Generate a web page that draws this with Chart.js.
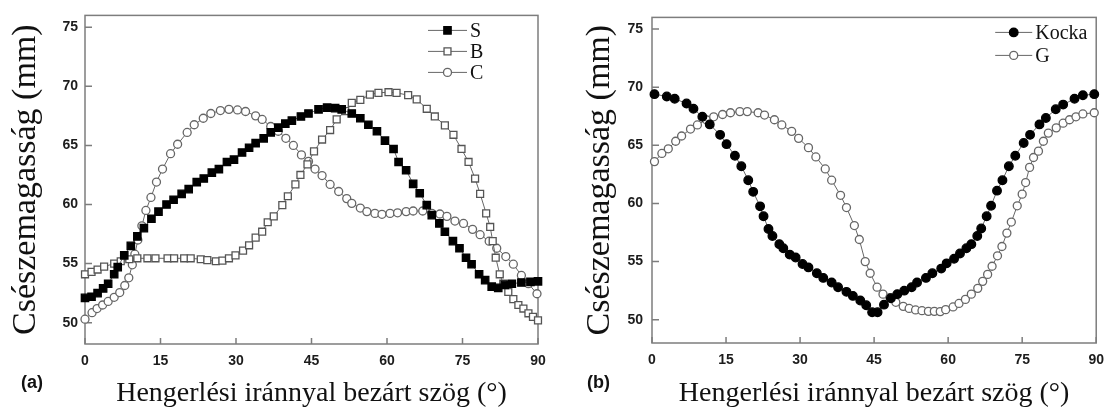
<!DOCTYPE html>
<html lang="hu">
<head>
    <meta charset="UTF-8">
    <title>Csészemagasság - hengerlési irány</title>
    <script src="https://cdn.jsdelivr.net/npm/chart.js"></script>
    <style>
        body {
            margin: 0;
            padding: 0;
            background: #fff;
        }
        .panel {
            position: absolute;
            top: 0;
            height: 412px;
        }
        #panel-a { left: 0; width: 556px; }
        #panel-b { left: 556px; width: 557px; }
        .tag {
            position: absolute;
            top: 372px;
            font: bold 18px "Liberation Sans", Arial, sans-serif;
            color: #111;
        }
    </style>
</head>
<body>
    <div class="panel" id="panel-a"><canvas id="chart-a"></canvas></div>
    <div class="panel" id="panel-b"><canvas id="chart-b"></canvas></div>
    <div class="tag" style="left:21px">(a)</div>
    <div class="tag" style="left:587px">(b)</div>

    <script>
        // axis ticks
        const angleTicks = [0, 15, 30, 45, 60, 75, 90];
        const heightTicks = [50, 55, 60, 65, 70, 75];

        // (a) S, B, C
        const sAngle = [0, 1.3, 2.5, 3.6, 4.6, 5.8, 6.5, 7.8, 9.1, 10.4, 11.7, 13.2, 14.6, 16.2, 17.6, 19.2, 20.6, 22.2, 23.6, 25.2, 26.6, 28.2, 29.6, 31.2, 32.6, 33.9, 35.5, 36.9, 38.4, 39.8, 41.1, 42.9, 44.4, 46.4, 48.1, 49.7, 51.0, 53.0, 54.7, 56.3, 58.0, 59.6, 61.3, 62.3, 63.8, 65.2, 66.5, 67.9, 68.9, 70.4, 71.5, 73.1, 74.4, 75.7, 76.8, 78.3, 79.5, 80.8, 82.1, 83.4, 84.8, 86.7, 88.5, 90];
        const sHeight = [52.1, 52.2, 52.5, 52.9, 53.3, 54.1, 54.7, 55.7, 56.5, 57.3, 58.0, 58.8, 59.4, 60.0, 60.4, 60.9, 61.3, 61.9, 62.2, 62.7, 63.0, 63.6, 63.8, 64.4, 64.8, 65.2, 65.6, 66.1, 66.5, 66.85, 67.1, 67.45, 67.7, 68.05, 68.2, 68.15, 68.05, 67.7, 67.3, 66.75, 66.2, 65.4, 64.7, 63.6, 62.9, 61.75, 60.95, 59.95, 59.1, 58.4, 57.7, 56.9, 56.3, 55.5, 54.95, 54.1, 53.6, 53.05, 52.95, 53.2, 53.3, 53.4, 53.45, 53.5];

        const bAngle = [0, 1.3, 2.5, 3.8, 5.8, 7.1, 8.8, 10.4, 12.4, 14.0, 16.4, 17.7, 19.7, 21.0, 23.0, 24.3, 26.0, 27.3, 28.6, 29.9, 31.4, 32.6, 33.9, 35.2, 36.3, 37.5, 39.2, 40.3, 41.8, 42.8, 44.2, 45.5, 47.1, 48.7, 50.0, 51.7, 53.0, 54.7, 56.6, 58.3, 60.3, 61.9, 64.2, 65.9, 67.9, 69.5, 71.5, 73.2, 74.8, 76.2, 77.5, 78.5, 79.7, 80.5, 81.0, 81.6, 82.4, 83.1, 84.1, 85.1, 86.1, 87.1, 88.1, 89.0, 90];
        const bHeight = [54.1, 54.3, 54.5, 54.75, 55.0, 55.2, 55.37, 55.45, 55.45, 55.45, 55.45, 55.45, 55.45, 55.45, 55.37, 55.3, 55.2, 55.25, 55.45, 55.7, 56.1, 56.55, 57.2, 57.7, 58.5, 59.0, 59.95, 60.7, 61.7, 62.5, 63.4, 64.5, 65.5, 66.3, 67.2, 67.9, 68.6, 68.85, 69.3, 69.45, 69.5, 69.45, 69.25, 68.9, 68.1, 67.45, 66.7, 65.9, 64.7, 63.6, 62.2, 60.9, 59.25, 58.1, 56.9, 55.5, 54.1, 53.3, 52.6, 52.0, 51.5, 51.2, 50.8, 50.5, 50.2];

        const cAngle = [0, 1.4, 2.4, 3.5, 4.6, 5.8, 6.9, 7.9, 8.7, 9.4, 9.9, 10.5, 11.3, 12.1, 13.1, 14.2, 15.4, 17.0, 18.4, 20.3, 21.7, 23.5, 25.0, 26.9, 28.6, 30.3, 31.9, 33.9, 35.2, 36.9, 38.4, 39.9, 41.4, 43.0, 44.4, 45.7, 47.1, 48.7, 50.4, 52.0, 53.0, 54.7, 56.0, 57.6, 59.0, 60.6, 62.1, 63.8, 65.2, 67.1, 68.9, 70.5, 71.9, 73.5, 75.2, 77.0, 78.5, 80.3, 81.8, 83.6, 85.1, 86.7, 88.1, 89.8];
        const cHeight = [50.3, 50.85, 51.2, 51.5, 51.8, 52.15, 52.55, 53.15, 53.8, 54.9, 55.8, 57.0, 58.2, 59.5, 60.6, 61.9, 63.0, 64.3, 65.1, 66.1, 66.75, 67.3, 67.7, 67.95, 68.05, 68.0, 67.87, 67.5, 67.2, 66.6, 66.2, 65.6, 65.0, 64.2, 63.65, 63.0, 62.45, 61.7, 61.1, 60.5, 60.1, 59.7, 59.4, 59.25, 59.17, 59.25, 59.3, 59.4, 59.45, 59.45, 59.25, 59.2, 59.0, 58.6, 58.4, 57.9, 57.45, 56.9, 56.3, 55.6, 54.95, 54.0, 53.3, 52.45];

        // (b) Kocka, G
        const kAngle = [0.5, 3.0, 4.6, 7.0, 8.4, 10.2, 11.7, 13.8, 15.1, 16.8, 18.1, 19.5, 20.5, 21.9, 22.6, 23.6, 24.4, 25.8, 26.6, 27.9, 29.1, 30.5, 31.7, 33.4, 34.7, 36.4, 37.7, 39.4, 40.7, 42.2, 43.4, 44.6, 45.7, 47.0, 48.4, 49.7, 51.1, 52.6, 53.7, 55.5, 56.8, 58.6, 59.7, 61.2, 62.4, 63.7, 64.7, 65.9, 66.7, 67.8, 68.7, 69.9, 71.0, 72.3, 73.6, 75.3, 76.6, 78.5, 79.8, 81.8, 83.3, 85.6, 87.3, 89.6];
        const kHeight = [69.4, 69.2, 69.0, 68.6, 68.15, 67.45, 66.8, 65.9, 65.1, 64.1, 63.2, 62.0, 61.0, 59.75, 58.9, 57.8, 57.2, 56.5, 56.15, 55.6, 55.35, 54.8, 54.5, 54.0, 53.6, 53.2, 52.8, 52.4, 52.05, 51.65, 51.25, 50.65, 50.65, 51.3, 51.85, 52.2, 52.5, 52.8, 53.2, 53.6, 54.0, 54.4, 54.85, 55.25, 55.7, 56.15, 56.5, 57.2, 57.85, 58.9, 59.8, 61.1, 62.0, 63.2, 64.1, 65.2, 65.9, 66.8, 67.35, 68.1, 68.5, 69.0, 69.3, 69.4];

        const gAngle = [0.5, 2.0, 3.3, 4.8, 6.0, 7.8, 9.2, 11.0, 12.5, 14.3, 15.9, 17.8, 19.3, 21.5, 22.8, 24.8, 26.3, 28.3, 29.7, 31.7, 33.2, 35.1, 36.4, 38.2, 39.4, 41.0, 42.0, 43.2, 44.2, 45.6, 46.8, 48.2, 49.4, 50.9, 52.1, 53.4, 54.7, 56.0, 57.2, 58.4, 59.5, 61.0, 62.2, 63.5, 64.7, 66.0, 67.0, 68.0, 68.9, 70.0, 70.9, 71.9, 72.8, 74.0, 75.0, 75.7, 76.5, 77.3, 78.3, 79.3, 80.3, 81.9, 83.3, 84.6, 85.9, 87.3, 89.6];
        const gHeight = [63.6, 64.3, 64.7, 65.35, 65.8, 66.4, 66.75, 67.2, 67.45, 67.65, 67.8, 67.9, 67.9, 67.8, 67.6, 67.2, 66.75, 66.2, 65.6, 64.8, 64.0, 62.97, 62.0, 60.7, 59.65, 58.1, 56.9, 55.0, 54.0, 52.8, 52.2, 51.9, 51.5, 51.15, 50.97, 50.84, 50.78, 50.72, 50.72, 50.7, 50.87, 51.1, 51.4, 51.75, 52.2, 52.7, 53.3, 53.9, 54.6, 55.5, 56.3, 57.45, 58.4, 59.8, 60.8, 61.8, 63.1, 63.95, 64.5, 65.35, 66.05, 66.5, 66.9, 67.2, 67.45, 67.7, 67.8];

        const pairs = (xs, ys) => xs.map((x, i) => ({ x: x, y: ys[i] }));

        const serif = '"Liberation Serif", "Times New Roman", serif';
        const sans = '"Liberation Sans", Arial, sans-serif';
        const frameColor = '#7d7d7d';

        // box around the plot area plus short inward tick marks
        const frame = {
            id: 'frame',
            beforeDatasetsDraw(chart) {
                const { ctx, chartArea: a, scales } = chart;
                ctx.save();
                ctx.strokeStyle = frameColor;
                ctx.lineWidth = 1.5;
                ctx.strokeRect(a.left, a.top, a.right - a.left, a.bottom - a.top);
                ctx.beginPath();
                scales.x.ticks.forEach(t => {
                    const px = scales.x.getPixelForValue(t.value);
                    ctx.moveTo(px, a.bottom);
                    ctx.lineTo(px, a.bottom - 6);
                });
                scales.y.ticks.forEach(t => {
                    const py = scales.y.getPixelForValue(t.value);
                    ctx.moveTo(a.left, py);
                    ctx.lineTo(a.left + 7, py);
                });
                ctx.stroke();
                ctx.restore();
            }
        };

        // legend drawn as line + marker + label
        const lineLegend = {
            id: 'lineLegend',
            afterDraw(chart, args, opts) {
                const { ctx, chartArea: a } = chart;
                ctx.save();
                chart.data.datasets.forEach((ds, i) => {
                    const x = a.right - opts.right;
                    const y = a.top + opts.top + i * opts.gap;
                    ctx.strokeStyle = ds.borderColor;
                    ctx.lineWidth = 1;
                    ctx.beginPath();
                    ctx.moveTo(x, y);
                    ctx.lineTo(x + opts.length, y);
                    ctx.stroke();
                    ctx.fillStyle = ds.pointBackgroundColor;
                    ctx.strokeStyle = ds.pointBorderColor;
                    ctx.lineWidth = ds.pointBorderWidth;
                    Chart.helpers.drawPoint(ctx, {
                        pointStyle: ds.pointStyle,
                        radius: ds.pointRadius,
                        borderWidth: ds.pointBorderWidth,
                        rotation: 0
                    }, x + opts.length / 2, y);
                    ctx.fillStyle = '#111';
                    ctx.font = '20px ' + serif;
                    ctx.textBaseline = 'middle';
                    ctx.fillText(ds.label, x + opts.length + 3, y + 1);
                });
                ctx.restore();
            }
        };

        function series(label, data, style, filled, radius, border) {
            return {
                label: label,
                data: data,
                showLine: true,
                borderColor: '#666',
                borderWidth: 1,
                pointStyle: style,
                pointRadius: radius,
                pointHoverRadius: radius,
                pointBorderWidth: 1.3,
                pointBorderColor: border,
                pointBackgroundColor: filled ? border : '#fff',
                clip: false
            };
        }

        function makeChart(id, datasets, cfg) {
            return new Chart(document.getElementById(id), {
                type: 'scatter',
                data: { datasets: datasets },
                options: {
                    responsive: true,
                    maintainAspectRatio: false,
                    animation: false,
                    layout: { padding: { top: cfg.top, right: cfg.right, left: 0, bottom: 0 } },
                    plugins: {
                        legend: { display: false },
                        tooltip: { enabled: false },
                        lineLegend: cfg.legend
                    },
                    scales: {
                        x: {
                            type: 'linear',
                            min: 0,
                            max: 90,
                            afterBuildTicks: s => { s.ticks = angleTicks.map(v => ({ value: v })); },
                            afterFit: s => { s.height = cfg.xHeight; },
                            grid: { display: false, drawTicks: false, tickLength: 0 },
                            border: { display: false },
                            ticks: {
                                padding: 9,
                                color: '#1c1c1c',
                                font: { family: sans, size: 14, weight: 'bold' }
                            },
                            title: {
                                display: true,
                                text: 'Hengerlési iránnyal bezárt szög (°)',
                                color: '#111',
                                font: { family: serif, size: 28 },
                                padding: { top: 0, bottom: 2 }
                            }
                        },
                        y: {
                            type: 'linear',
                            min: cfg.yMin,
                            max: 76,
                            afterBuildTicks: s => { s.ticks = heightTicks.map(v => ({ value: v })); },
                            afterFit: s => { s.width = cfg.yWidth; },
                            grid: { display: false, drawTicks: false, tickLength: 0 },
                            border: { display: false },
                            ticks: {
                                padding: cfg.yPad,
                                color: '#1c1c1c',
                                font: { family: sans, size: 14, weight: 'bold' }
                            },
                            title: {
                                display: true,
                                text: 'Csészemagasság (mm)',
                                color: '#111',
                                font: { family: serif, size: 34 },
                                padding: { top: cfg.titleGap, bottom: 0 }
                            }
                        }
                    }
                },
                plugins: [frame, lineLegend]
            });
        }

        makeChart('chart-a', [
            series('S', pairs(sAngle, sHeight), 'rect', true, 5.2, '#000'),
            series('B', pairs(bAngle, bHeight), 'rect', false, 4.9, '#555'),
            series('C', pairs(cAngle, cHeight), 'circle', false, 4, '#666')
        ], {
            top: 11, right: 18, yMin: 48.2, yWidth: 85, yPad: 7, titleGap: 6, xHeight: 68,
            legend: { right: 110, top: 15, gap: 21, length: 39 }
        });

        makeChart('chart-b', [
            series('Kocka', pairs(kAngle, kHeight), 'circle', true, 4.3, '#000'),
            series('G', pairs(gAngle, gHeight), 'circle', false, 4, '#666')
        ], {
            top: 10, right: 9, yMin: 48.0, yWidth: 96, yPad: 9, titleGap: 24, xHeight: 69,
            legend: { right: 101, top: 15, gap: 23, length: 37 }
        });
    </script>
</body>
</html>
